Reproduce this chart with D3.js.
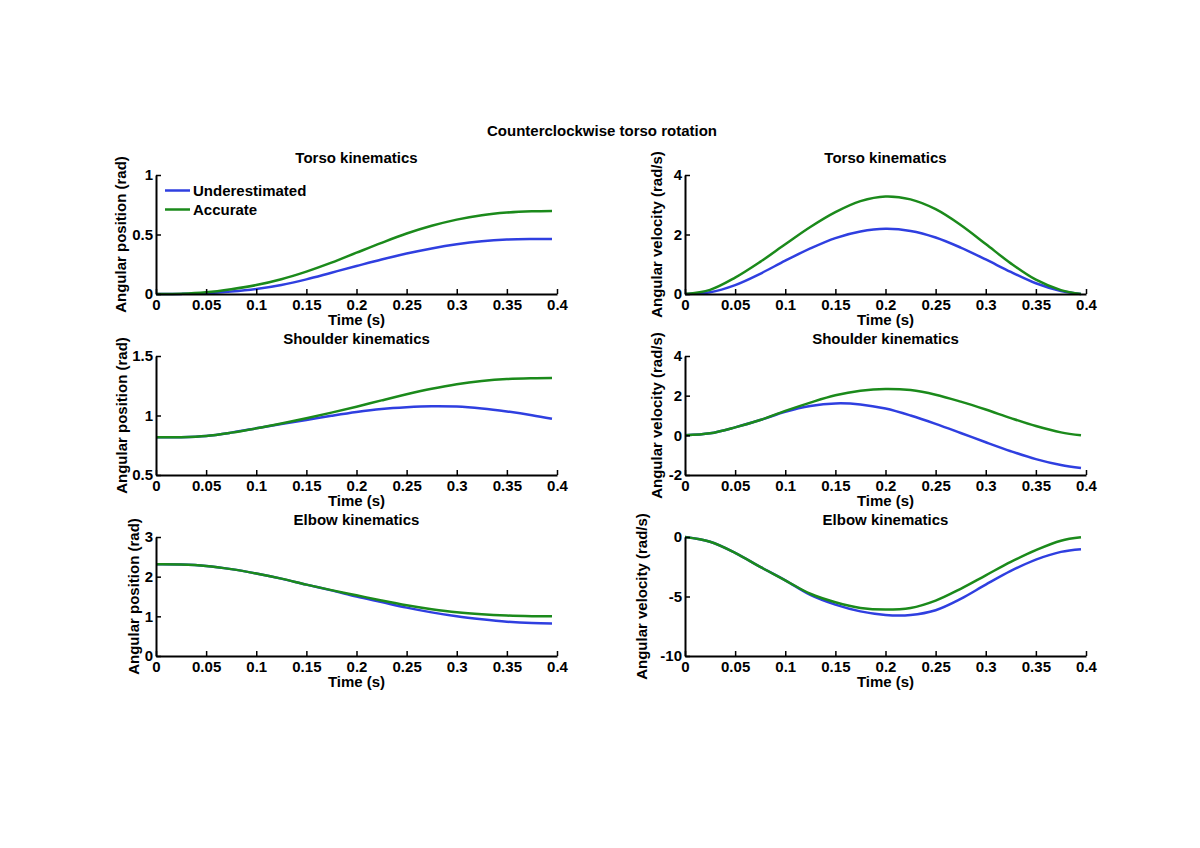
<!DOCTYPE html>
<html>
<head>
    <title>Counterclockwise torso rotation</title>
</head>
<body>
<style type="text/css">
    body {
        margin: 0;
        background: #fff;
    }

    #renderer {
        width: 1200px;
        height: 848px;
        background: #FFF;
        display: block;
    }

    text {
        font-family: "Liberation Sans", Arial, sans-serif;
        font-weight: bold;
        font-size: 15px;
        fill: #000;
    }
</style>
<script type="text/javascript" src="https://cdnjs.cloudflare.com/ajax/libs/d3/7.8.5/d3.min.js"></script>
<svg id='renderer'></svg>

<script type="text/javascript">
    // sample times (s), shared by every panel
    var time = [0, 0.025, 0.05, 0.075, 0.1, 0.125, 0.15, 0.175, 0.2, 0.225, 0.25, 0.275, 0.3, 0.325, 0.35, 0.375, 0.395];

    var xTicks = [0, 0.05, 0.1, 0.15, 0.2, 0.25, 0.3, 0.35, 0.4];
    var seriesNames = ['Underestimated', 'Accurate'];

    // torso
    var torsoPosUnder = [0, 0.001, 0.006, 0.02, 0.042, 0.076, 0.123, 0.179, 0.235, 0.29, 0.34, 0.383, 0.418, 0.443, 0.457, 0.462, 0.463];
    var torsoPosAcc = [0, 0.002, 0.014, 0.04, 0.075, 0.124, 0.188, 0.263, 0.347, 0.43, 0.508, 0.573, 0.625, 0.662, 0.684, 0.695, 0.698];
    var torsoVelUnder = [0, 0.06, 0.3, 0.68, 1.12, 1.53, 1.88, 2.1, 2.19, 2.12, 1.9, 1.56, 1.16, 0.74, 0.36, 0.1, 0];
    var torsoVelAcc = [0, 0.14, 0.55, 1.08, 1.67, 2.25, 2.75, 3.12, 3.28, 3.18, 2.85, 2.32, 1.68, 1.03, 0.48, 0.13, 0];

    // shoulder
    var shoulderPosUnder = [0.817, 0.818, 0.828, 0.856, 0.892, 0.929, 0.963, 0.998, 1.03, 1.055, 1.07, 1.078, 1.075, 1.059, 1.034, 1.003, 0.973];
    var shoulderPosAcc = [0.817, 0.818, 0.828, 0.856, 0.892, 0.933, 0.977, 1.024, 1.074, 1.127, 1.178, 1.224, 1.262, 1.289, 1.306, 1.313, 1.315];
    var shoulderVelUnder = [0, 0.1, 0.4, 0.77, 1.19, 1.48, 1.61, 1.56, 1.35, 1.0, 0.58, 0.12, -0.35, -0.8, -1.2, -1.5, -1.65];
    var shoulderVelAcc = [0, 0.1, 0.4, 0.77, 1.23, 1.65, 2.02, 2.25, 2.34, 2.28, 2.05, 1.7, 1.3, 0.87, 0.47, 0.15, 0];

    // elbow
    var elbowPosUnder = [2.31, 2.305, 2.27, 2.19, 2.08, 1.95, 1.8, 1.655, 1.5, 1.36, 1.22, 1.1, 1.0, 0.925, 0.865, 0.83, 0.82];
    var elbowPosAcc = [2.31, 2.305, 2.27, 2.19, 2.08, 1.95, 1.8, 1.66, 1.53, 1.4, 1.28, 1.18, 1.1, 1.05, 1.02, 1.005, 1.0];
    var elbowVelUnder = [0, -0.4, -1.33, -2.51, -3.64, -4.86, -5.68, -6.25, -6.55, -6.55, -6.15, -5.2, -4.0, -2.85, -1.9, -1.25, -1.02];
    var elbowVelAcc = [0, -0.4, -1.33, -2.51, -3.64, -4.77, -5.48, -5.96, -6.1, -5.96, -5.34, -4.35, -3.22, -2.09, -1.1, -0.31, -0.03];

    // tick labels for each y axis
    var torsoPosTicks = [0, 0.5, 1];
    var torsoVelTicks = [0, 2, 4];
    var shoulderPosTicks = [0.5, 1, 1.5];
    var shoulderVelTicks = [-2, 0, 2, 4];
    var elbowPosTicks = [0, 1, 2, 3];
    var elbowVelTicks = [-10, -5, 0];

    var root = d3.select('#renderer');

    var colors = ['#2f3fe0', '#1b8a1b'];
    var leftX = [156, 685];
    var topY = [175, 356, 537];
    var graphWidth = 401;
    var graphHeight = 119;

    var panels = [
        {col: 0, row: 0, title: 'Torso kinematics', ylabel: 'Angular position (rad)', ticks: torsoPosTicks, under: torsoPosUnder, acc: torsoPosAcc, labelGap: 30, legend: true},
        {col: 1, row: 0, title: 'Torso kinematics', ylabel: 'Angular velocity (rad/s)', ticks: torsoVelTicks, under: torsoVelUnder, acc: torsoVelAcc, labelGap: 23},
        {col: 0, row: 1, title: 'Shoulder kinematics', ylabel: 'Angular position (rad)', ticks: shoulderPosTicks, under: shoulderPosUnder, acc: shoulderPosAcc, labelGap: 29},
        {col: 1, row: 1, title: 'Shoulder kinematics', ylabel: 'Angular velocity (rad/s)', ticks: shoulderVelTicks, under: shoulderVelUnder, acc: shoulderVelAcc, labelGap: 23},
        {col: 0, row: 2, title: 'Elbow kinematics', ylabel: 'Angular position (rad)', ticks: elbowPosTicks, under: elbowPosUnder, acc: elbowPosAcc, labelGap: 17},
        {col: 1, row: 2, title: 'Elbow kinematics', ylabel: 'Angular velocity (rad/s)', ticks: elbowVelTicks, under: elbowVelUnder, acc: elbowVelAcc, labelGap: 38}
    ];

    // figure title
    root.append('text')
        .text('Counterclockwise torso rotation')
        .attr('x', 602)
        .attr('y', 136)
        .attr('text-anchor', 'middle');

    panels.forEach(function (p) {
        var x0 = leftX[p.col];
        var y0 = topY[p.row];
        var g = root.append('g').attr('transform', 'translate(' + x0 + ',' + y0 + ')');

        var x = d3.scaleLinear().domain([0, 0.4]).range([0, graphWidth]);
        var y = d3.scaleLinear().domain([p.ticks[0], p.ticks[p.ticks.length - 1]]).range([graphHeight, 0]);

        // lines first, axes drawn on top like matlab
        var line = d3.line()
            .x(function (d, i) { return x(time[i]); })
            .y(function (d) { return y(d); })
            .curve(d3.curveCatmullRom);

        [p.under, p.acc].forEach(function (vals, k) {
            g.append('path')
                .attr('d', line(vals))
                .attr('fill', 'none')
                .attr('stroke', colors[k])
                .attr('stroke-width', 2.5);
        });

        var xAxis = g.append('g')
            .attr('transform', 'translate(0,' + graphHeight + ')')
            .call(d3.axisBottom(x).tickValues(xTicks).tickFormat(function (d) { return d; })
                .tickSizeInner(-5).tickSizeOuter(0).tickPadding(5));

        var yAxis = g.append('g')
            .call(d3.axisLeft(y).tickValues(p.ticks).tickFormat(function (d) { return d; })
                .tickSizeInner(-5).tickSizeOuter(0).tickPadding(3));

        [xAxis, yAxis].forEach(function (a) {
            a.select('.domain').attr('stroke', '#000').attr('stroke-width', 2);
            a.selectAll('.tick line').attr('stroke', '#000').attr('stroke-width', 1.5);
            a.selectAll('.tick text')
                .attr('font-family', '"Liberation Sans", Arial, sans-serif')
                .attr('font-weight', 'bold')
                .attr('font-size', 15)
                .attr('fill', '#000');
        });

        // titles and labels
        g.append('text')
            .text(p.title)
            .attr('x', graphWidth / 2)
            .attr('y', -12)
            .attr('text-anchor', 'middle');

        g.append('text')
            .text('Time (s)')
            .attr('x', graphWidth / 2)
            .attr('y', graphHeight + 31)
            .attr('text-anchor', 'middle');

        g.append('text')
            .text(p.ylabel)
            .attr('transform', 'translate(' + (-p.labelGap) + ',' + (graphHeight / 2) + ') rotate(-90)')
            .attr('text-anchor', 'middle');

        if (p.legend) {
            seriesNames.forEach(function (name, k) {
                var ly = 15.5 + k * 19;
                g.append('line')
                    .attr('x1', 9)
                    .attr('x2', 34)
                    .attr('y1', ly)
                    .attr('y2', ly)
                    .attr('stroke', colors[k])
                    .attr('stroke-width', 2.5);
                g.append('text')
                    .text(name)
                    .attr('x', 37)
                    .attr('y', ly + 5);
            });
        }
    });
</script>
</body>
</html>
